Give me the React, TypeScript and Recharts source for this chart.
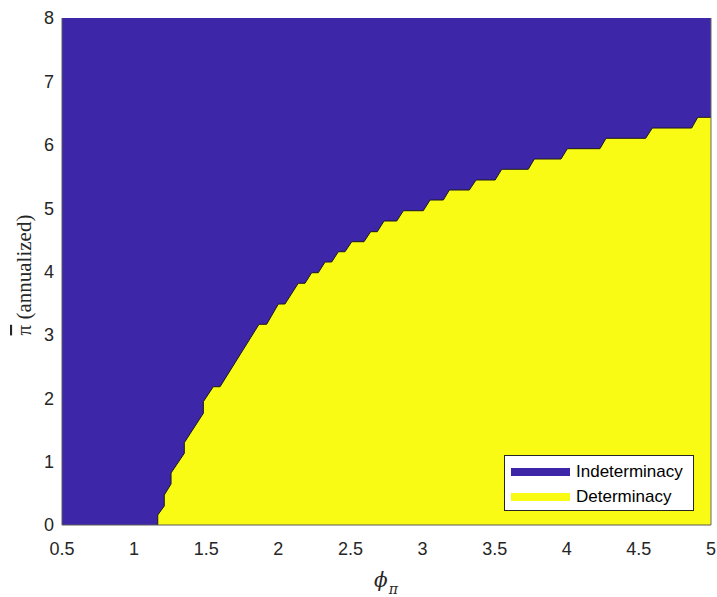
import React from 'react';
import { ComposedChart, Area, XAxis, YAxis, CartesianGrid, ReferenceLine, Legend } from 'recharts';

// Boundary of the determinacy region
const phiPi: number[] = [
  1.164, 1.164, 1.209, 1.209, 1.256, 1.256, 1.348, 1.348, 1.480, 1.480,
  1.549, 1.596, 1.866, 1.919, 2.000, 2.046, 2.138, 2.185, 2.231, 2.277,
  2.324, 2.370, 2.416, 2.462, 2.509, 2.594, 2.640, 2.686, 2.733, 2.821,
  2.867, 3.005, 3.052, 3.144, 3.186, 3.324, 3.371, 3.503, 3.549, 3.733,
  3.775, 3.960, 4.004, 4.230, 4.272, 4.547, 4.593, 4.866, 4.908, 5.000,
];
const piBar: number[] = [
  0.000, 0.158, 0.300, 0.473, 0.647, 0.821, 1.131, 1.299, 1.763, 1.946,
  2.182, 2.182, 3.167, 3.167, 3.487, 3.487, 3.814, 3.814, 3.981, 3.981,
  4.150, 4.150, 4.312, 4.312, 4.470, 4.470, 4.628, 4.628, 4.797, 4.797,
  4.959, 4.959, 5.128, 5.128, 5.286, 5.286, 5.444, 5.444, 5.613, 5.613,
  5.775, 5.775, 5.938, 5.938, 6.102, 6.102, 6.264, 6.264, 6.433, 6.433,
];
const xTicks: number[] = [0.5, 1, 1.5, 2, 2.5, 3, 3.5, 4, 4.5, 5];
const yTicks: number[] = [0, 1, 2, 3, 4, 5, 6, 7, 8];
const regionNames: string[] = ['Indeterminacy', 'Determinacy'];

const BLUE = '#3E26A8';
const YELLOW = '#F9FB15';
const AXIS = '#262626';

const data = phiPi.map((p, i) => ({ phi: p, pi: piBar[i] }));

const LegendBox = () => (
  <div
    style={{
      width: 190,
      height: 56,
      boxSizing: 'border-box',
      border: `1px solid ${AXIS}`,
      background: '#fff',
      paddingTop: 4,
      fontFamily: '"Liberation Sans", Arial, Helvetica, sans-serif',
      fontSize: 17,
      color: '#000',
    }}
  >
    {regionNames.map((name, i) => (
      <div key={name} style={{ display: 'flex', alignItems: 'center', height: 24.4 }}>
        <div style={{ marginLeft: 6, width: 59, height: 8, background: i === 0 ? BLUE : YELLOW }} />
        <span style={{ marginLeft: 6, lineHeight: '20px' }}>{name}</span>
      </div>
    ))}
  </div>
);

const YLabel = () => (
  <text
    x={24}
    y={275}
    transform="rotate(-90, 24, 275)"
    textAnchor="middle"
    dominantBaseline="central"
    fontFamily='"Liberation Serif", "DejaVu Serif", serif'
    fontSize={21}
    fill={AXIS}
  >
    <tspan style={{ textDecoration: 'overline' }}>π</tspan>
    <tspan> (annualized)</tspan>
  </text>
);

const XLabel = () => (
  <text
    x={374}
    y={587}
    fontFamily='"DejaVu Serif", "Liberation Serif", serif'
    fontStyle="italic"
    fontSize={20}
    fill={AXIS}
  >
    <tspan>ϕ</tspan>
    <tspan dx={1} dy={7} fontSize={14}>π</tspan>
  </text>
);

const tickStyle = { fontFamily: '"Liberation Sans", Arial, Helvetica, sans-serif', fontSize: 18, fill: AXIS };

export default function App() {
  return (
    <div style={{ position: 'absolute', left: 0, top: 0, width: 717, height: 597, background: '#fff' }}>
      <ComposedChart
        width={717}
        height={597}
        data={data}
        margin={{ top: 18, right: 6, bottom: 0, left: 0 }}
      >
        <CartesianGrid horizontal={false} vertical={false} fill={BLUE} fillOpacity={1} stroke="none" />
        <XAxis
          dataKey="phi"
          type="number"
          domain={[0.5, 5]}
          ticks={xTicks}
          interval={0}
          allowDataOverflow
          height={72}
          tickLine={false}
          tickSize={0}
          tickMargin={17}
          axisLine={{ stroke: '#5a5a5a', strokeWidth: 1 }}
          tick={tickStyle}
          label={{ content: () => <XLabel /> }}
        />
        <YAxis
          type="number"
          domain={[0, 8]}
          ticks={yTicks}
          interval={0}
          allowDataOverflow
          width={62}
          tickLine={false}
          tickSize={0}
          tickMargin={8}
          axisLine={{ stroke: '#5a5a5a', strokeWidth: 1 }}
          tick={tickStyle}
          label={{ content: () => <YLabel /> }}
        />
        <Area
          type="linear"
          dataKey="pi"
          baseValue={0}
          fill={YELLOW}
          fillOpacity={1}
          stroke="#1a1a1a"
          strokeWidth={1}
          dot={false}
          activeDot={false}
          isAnimationActive={false}
        />
        <ReferenceLine x={5} stroke="#6a6a6a" strokeWidth={1} />
        <Legend
          layout="vertical"
          align="center"
          verticalAlign="middle"
          content={() => <LegendBox />}
          wrapperStyle={{ position: 'absolute', left: 504, top: 455, width: 190, height: 56 }}
        />
      </ComposedChart>
    </div>
  );
}
